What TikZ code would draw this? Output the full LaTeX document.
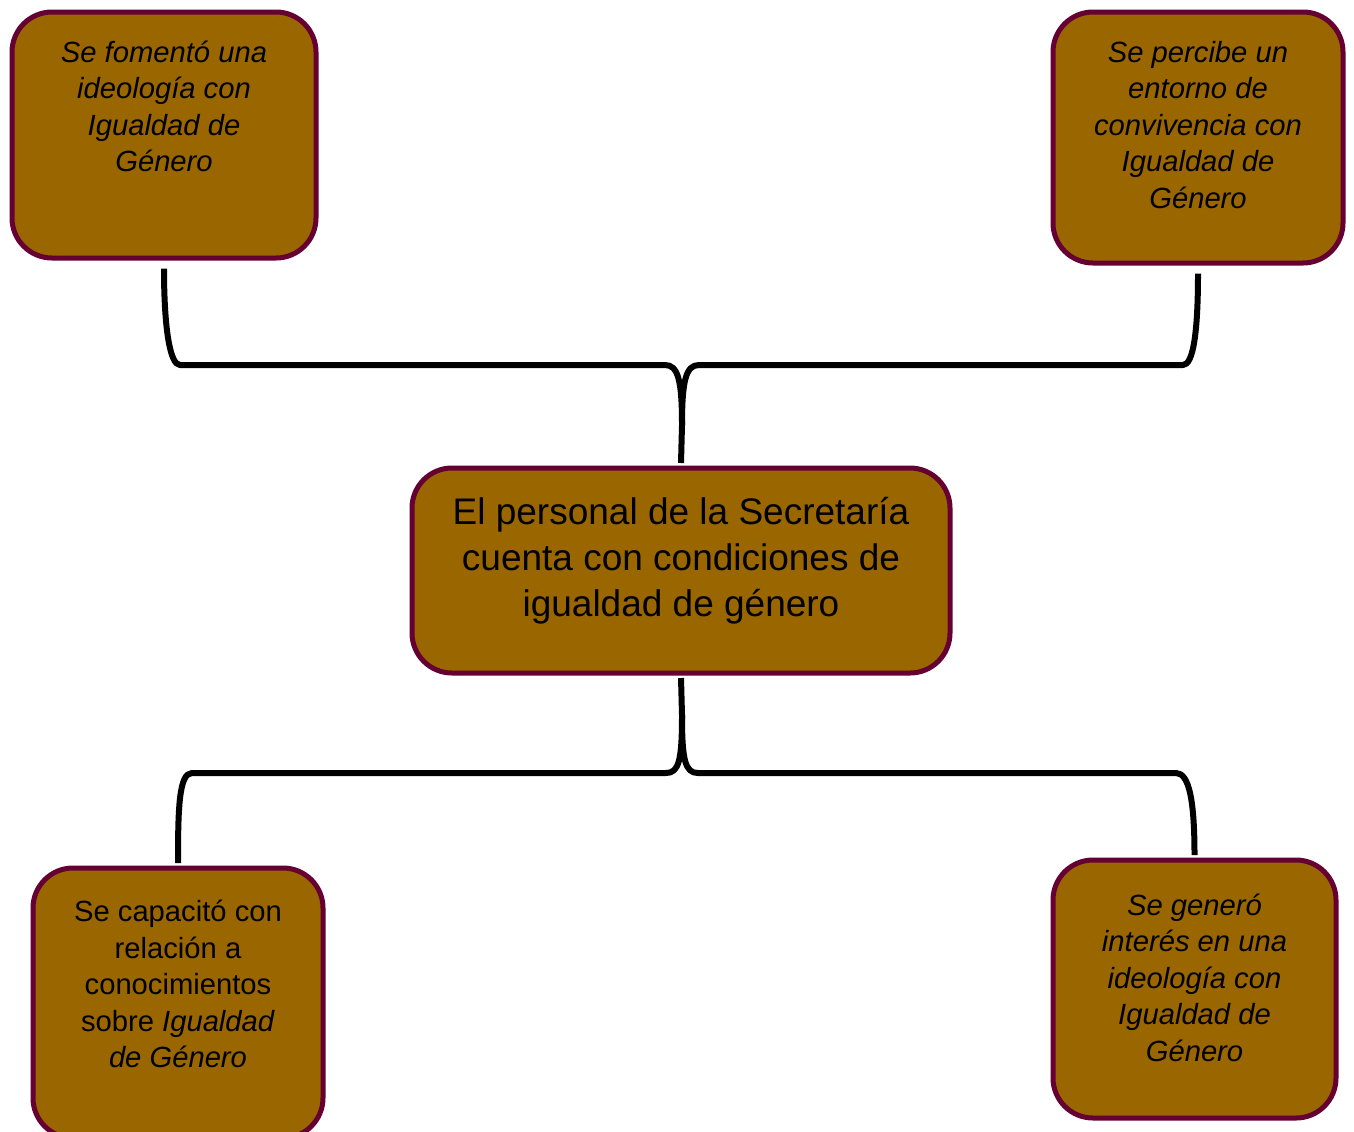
\documentclass[tikz,border=0pt]{standalone}
\usepackage{fontspec}
\setmainfont{Liberation Sans}
\definecolor{cafe}{HTML}{996600}
\definecolor{vino}{HTML}{660033}
\tikzset{
    caja/.style={draw=vino,fill=cafe,line width=2.5pt,rounded corners=20pt,inner sep=0pt},
    llave/.style={line width=3pt,line join=round},
}
% #1 alto, #2 ancho, #3 primera linea base, #4 texto
\newcommand{\textocaja}[4]{\parbox[c][#1][t]{#2}{\centering\rule{0pt}{#3}#4}}

\begin{document}
\begin{tikzpicture}[x=0.5pt,y=-0.5pt]
    \useasboundingbox (0,0) rectangle (1354,1131);
    \node[caja] (fomento) at (164,135) {\textocaja{123pt}{152pt}{25pt}{\fontsize{14.6}{18.25}\selectfont\itshape
        Se fomentó una\\ideología con\\Igualdad de\\Género}};
    \node[caja] (percibe) at (1198,137.5) {\textocaja{125.5pt}{145pt}{25pt}{\fontsize{14.6}{18.25}\selectfont\itshape
        Se percibe un\\entorno de\\convivencia con\\Igualdad de\\Género}};
    \node[caja] (personal) at (681,570.5) {\textocaja{102.5pt}{269pt}{28pt}{\fontsize{18.5}{23}\selectfont
        El personal de la Secretaría\\cuenta con condiciones de\\igualdad de género}};
    \node[caja] (capacito) at (178,1003) {\textocaja{135pt}{145pt}{26.75pt}{\fontsize{14.6}{18.25}\selectfont
        Se capacitó con\\relación a\\conocimientos\\sobre \textit{Igualdad}\\\textit{de Género}}};
    \node[caja] (genero) at (1194.5,989) {\textocaja{129pt}{141.5pt}{27.5pt}{\fontsize{14.6}{18.25}\selectfont\itshape
        Se generó\\interés en una\\ideología con\\Igualdad de\\Género}};

    \draw[llave] ([yshift=-4pt]fomento.south) .. controls +(0,60) and +(-10,0) .. (180,365) -- (665,365)
        .. controls +(13,0) and +(0,-45) .. (682,425) -- ([yshift=1.25pt]personal.north);
    \draw[llave] ([yshift=-4pt]percibe.south) .. controls +(0,60) and +(10,0) .. (1183,365) -- (699,365)
        .. controls +(-13,0) and +(0,-45) .. (682,425);
    \draw[llave] ([yshift=-1.25pt]personal.south) -- (682,715) .. controls +(0,45) and +(13,0) .. (666,773)
        -- (192,773) .. controls +(-13,0) and +(0,-55) .. ([yshift=1.25pt]capacito.north);
    \draw[llave] (682,715) .. controls +(0,45) and +(-13,0) .. (698,773)
        -- (1176,773) .. controls +(13,0) and +(0,-55) .. ([yshift=1.25pt]genero.north);
\end{tikzpicture}
\end{document}
